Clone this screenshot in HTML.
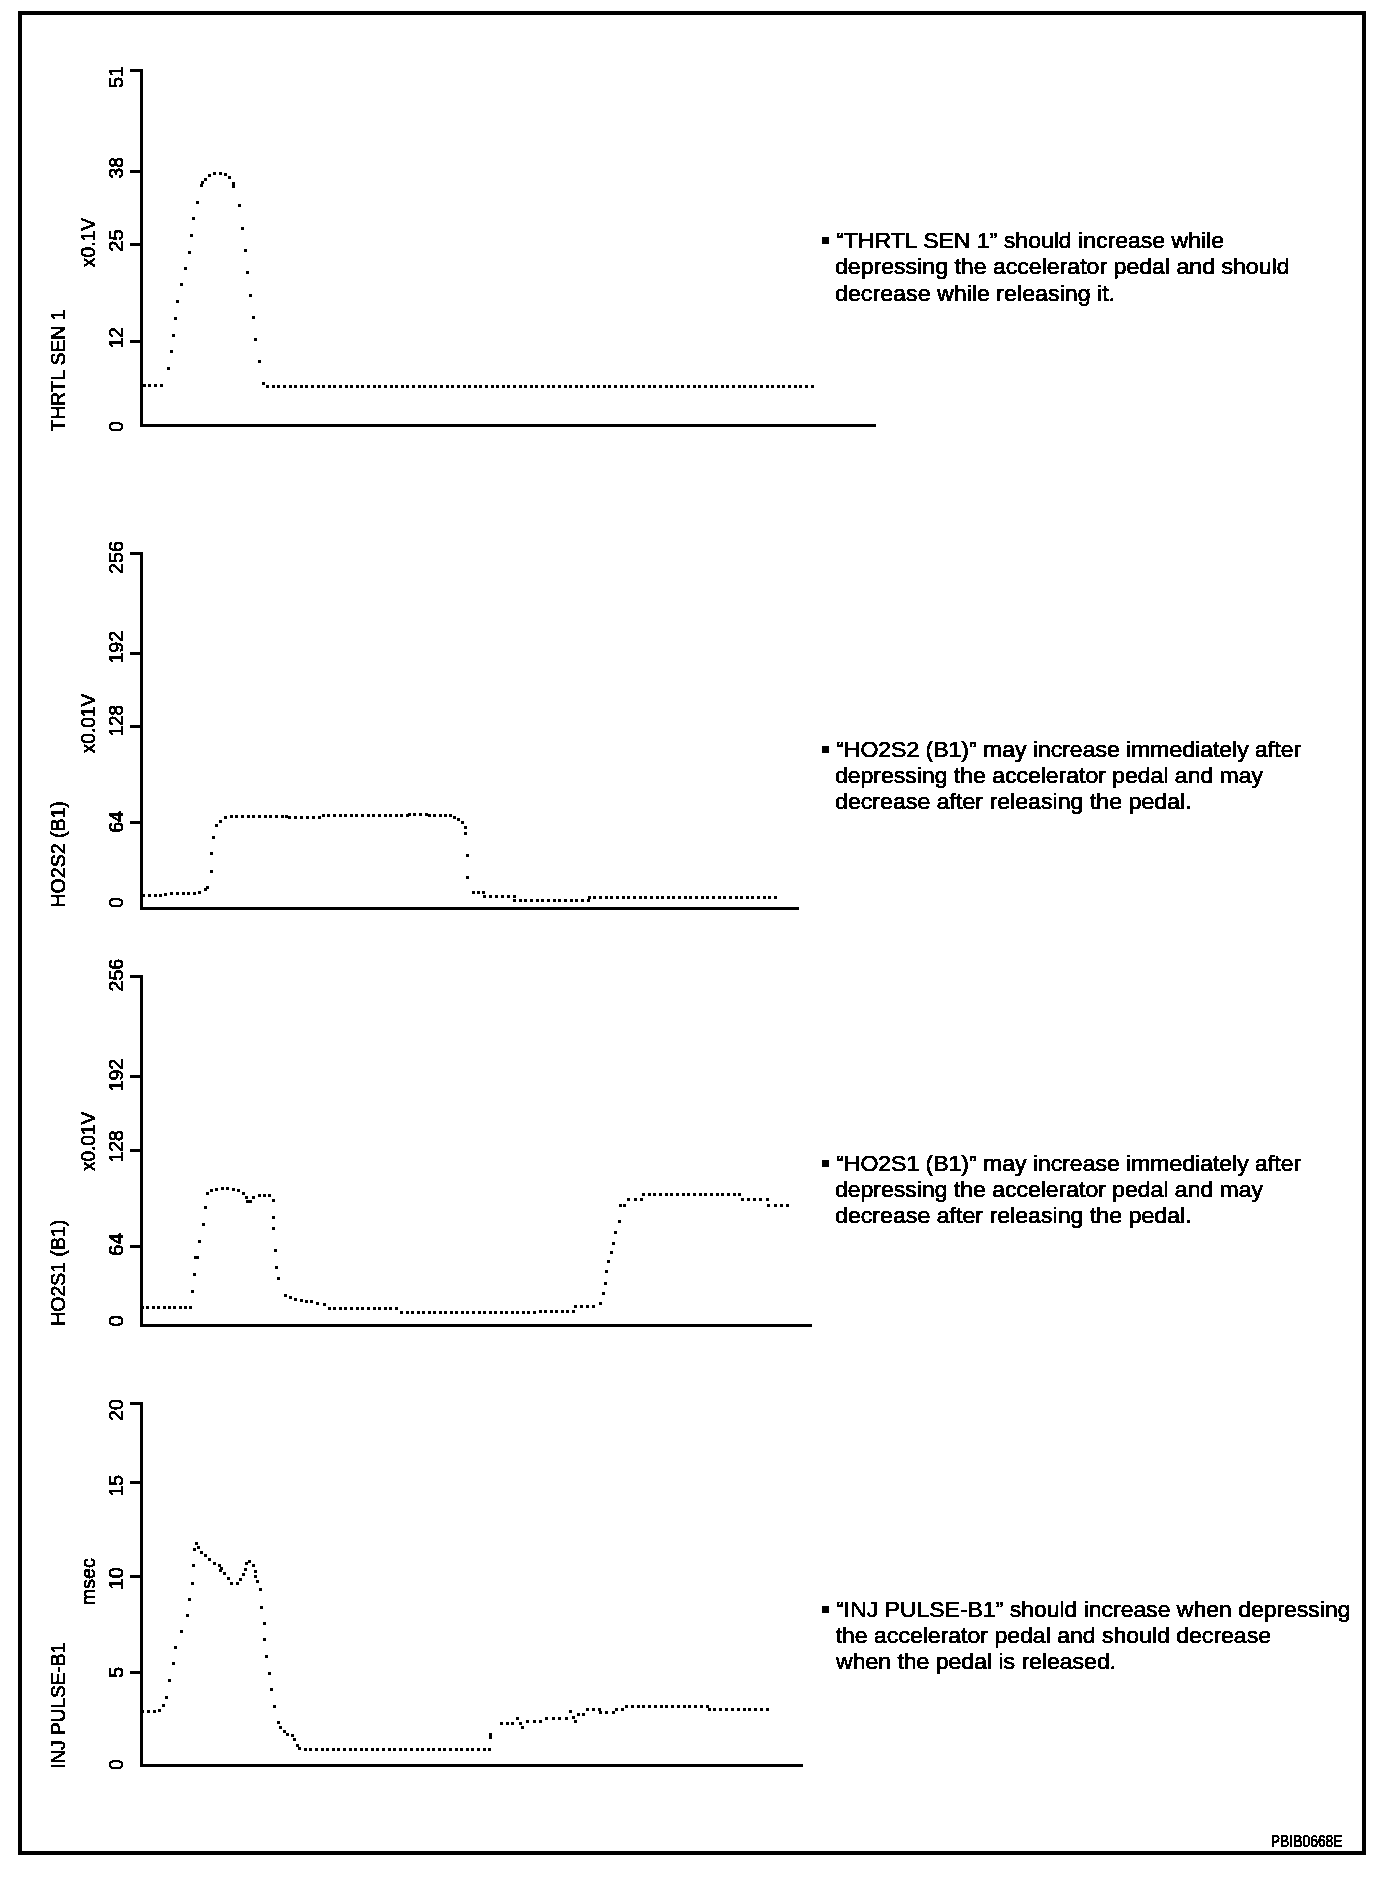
<!DOCTYPE html>
<html><head><meta charset="utf-8"><title>chart</title>
<style>
html,body{margin:0;padding:0;background:#fff;width:1392px;height:1878px;overflow:hidden;}
svg{display:block;}
text{font-family:"Liberation Sans",sans-serif;fill:#000;stroke:#000;stroke-width:0.7px;}
</style></head>
<body>
<svg width="1392" height="1878" viewBox="0 0 1392 1878" shape-rendering="crispEdges">
<defs><filter id="bw" x="0" y="0" width="1392" height="1878" filterUnits="userSpaceOnUse" color-interpolation-filters="sRGB">
<feColorMatrix type="matrix" values="0.3 0.59 0.11 0 0 0.3 0.59 0.11 0 0 0.3 0.59 0.11 0 0 0 0 0 1 0"/>
<feComponentTransfer><feFuncR type="discrete" tableValues="0 1"/><feFuncG type="discrete" tableValues="0 1"/><feFuncB type="discrete" tableValues="0 1"/></feComponentTransfer>
</filter></defs>
<g filter="url(#bw)"><rect x="0" y="0" width="1392" height="1878" fill="#fff"/>
<rect x="20" y="13" width="1344" height="1840" fill="none" stroke="#000" stroke-width="4"/>
<path d="M141.5 68.9V427.0M130 70.4H143M140 425.5H876" fill="none" stroke="#000" stroke-width="3"/>
<path d="M130 171.3H141" stroke="#000" stroke-width="3"/>
<path d="M130 244.8H141" stroke="#000" stroke-width="3"/>
<path d="M130 341.6H141" stroke="#000" stroke-width="3"/>
<text transform="translate(123.00,87.99) rotate(-90)" font-size="21" textLength="22.06" lengthAdjust="spacingAndGlyphs">51</text>
<text transform="translate(123.00,178.43) rotate(-90)" font-size="21" textLength="21.26" lengthAdjust="spacingAndGlyphs">38</text>
<text transform="translate(123.00,251.82) rotate(-90)" font-size="21" textLength="22.46" lengthAdjust="spacingAndGlyphs">25</text>
<text transform="translate(123.00,348.34) rotate(-90)" font-size="21" textLength="20.99" lengthAdjust="spacingAndGlyphs">12</text>
<text transform="translate(123.00,431.74) rotate(-90)" font-size="21" textLength="10.47" lengthAdjust="spacingAndGlyphs">0</text>
<text transform="translate(65.00,431.33) rotate(-90)" font-size="20" textLength="121.45" lengthAdjust="spacingAndGlyphs">THRTL SEN 1</text>
<text transform="translate(94.50,267.22) rotate(-90)" font-size="20" textLength="49.30" lengthAdjust="spacingAndGlyphs">x0.1V</text>
<path d="M141.5 552.0V909.8M130 553.5H143M140 908.3H799" fill="none" stroke="#000" stroke-width="3"/>
<path d="M130 653.5H141" stroke="#000" stroke-width="3"/>
<path d="M130 726.2H141" stroke="#000" stroke-width="3"/>
<path d="M130 822.0H141" stroke="#000" stroke-width="3"/>
<text transform="translate(123.00,573.89) rotate(-90)" font-size="21" textLength="32.86" lengthAdjust="spacingAndGlyphs">256</text>
<text transform="translate(123.00,663.49) rotate(-90)" font-size="21" textLength="32.57" lengthAdjust="spacingAndGlyphs">192</text>
<text transform="translate(123.00,736.33) rotate(-90)" font-size="21" textLength="31.24" lengthAdjust="spacingAndGlyphs">128</text>
<text transform="translate(123.00,832.79) rotate(-90)" font-size="21" textLength="21.77" lengthAdjust="spacingAndGlyphs">64</text>
<text transform="translate(123.00,907.64) rotate(-90)" font-size="21" textLength="10.47" lengthAdjust="spacingAndGlyphs">0</text>
<text transform="translate(65.20,907.50) rotate(-90)" font-size="20" textLength="106.31" lengthAdjust="spacingAndGlyphs">HO2S2 (B1)</text>
<text transform="translate(94.70,753.21) rotate(-90)" font-size="20" textLength="59.40" lengthAdjust="spacingAndGlyphs">x0.01V</text>
<path d="M141.5 974.9V1326.8M130 976.4H143M140 1325.3H812" fill="none" stroke="#000" stroke-width="3"/>
<path d="M130 1076.3H141" stroke="#000" stroke-width="3"/>
<path d="M130 1150.5H141" stroke="#000" stroke-width="3"/>
<path d="M130 1246.4H141" stroke="#000" stroke-width="3"/>
<text transform="translate(123.00,991.49) rotate(-90)" font-size="21" textLength="32.75" lengthAdjust="spacingAndGlyphs">256</text>
<text transform="translate(123.00,1091.49) rotate(-90)" font-size="21" textLength="32.68" lengthAdjust="spacingAndGlyphs">192</text>
<text transform="translate(123.00,1162.48) rotate(-90)" font-size="21" textLength="32.32" lengthAdjust="spacingAndGlyphs">128</text>
<text transform="translate(123.00,1256.04) rotate(-90)" font-size="21" textLength="22.84" lengthAdjust="spacingAndGlyphs">64</text>
<text transform="translate(123.00,1326.82) rotate(-90)" font-size="21" textLength="11.63" lengthAdjust="spacingAndGlyphs">0</text>
<text transform="translate(65.20,1325.80) rotate(-90)" font-size="20" textLength="106.11" lengthAdjust="spacingAndGlyphs">HO2S1 (B1)</text>
<text transform="translate(94.70,1171.11) rotate(-90)" font-size="20" textLength="59.40" lengthAdjust="spacingAndGlyphs">x0.01V</text>
<path d="M141.5 1402.0V1766.8M130 1403.5H143M140 1765.3H802.5" fill="none" stroke="#000" stroke-width="3"/>
<path d="M130 1482.4H141" stroke="#000" stroke-width="3"/>
<path d="M130 1576.4H141" stroke="#000" stroke-width="3"/>
<path d="M130 1672.4H141" stroke="#000" stroke-width="3"/>
<text transform="translate(123.00,1420.98) rotate(-90)" font-size="21" textLength="21.75" lengthAdjust="spacingAndGlyphs">20</text>
<text transform="translate(123.00,1496.46) rotate(-90)" font-size="21" textLength="21.37" lengthAdjust="spacingAndGlyphs">15</text>
<text transform="translate(123.00,1589.74) rotate(-90)" font-size="21" textLength="22.53" lengthAdjust="spacingAndGlyphs">10</text>
<text transform="translate(123.00,1677.78) rotate(-90)" font-size="21" textLength="10.79" lengthAdjust="spacingAndGlyphs">5</text>
<text transform="translate(123.00,1769.73) rotate(-90)" font-size="21" textLength="10.35" lengthAdjust="spacingAndGlyphs">0</text>
<text transform="translate(65.00,1768.76) rotate(-90)" font-size="20" textLength="125.89" lengthAdjust="spacingAndGlyphs">INJ PULSE-B1</text>
<text transform="translate(95.00,1605.20) rotate(-90)" font-size="20" textLength="46.92" lengthAdjust="spacingAndGlyphs">msec</text>
<rect x="822" y="237" width="7" height="7"/>
<text x="836.16" y="248.00" font-size="22" textLength="387.86" lengthAdjust="spacingAndGlyphs">“THRTL SEN 1” should increase while</text>
<text x="835.03" y="274.00" font-size="22" textLength="454.46" lengthAdjust="spacingAndGlyphs">depressing the accelerator pedal and should</text>
<text x="835.02" y="300.50" font-size="22" textLength="280.10" lengthAdjust="spacingAndGlyphs">decrease while releasing it.</text>
<rect x="822" y="746" width="7" height="7"/>
<text x="836.16" y="757.00" font-size="22" textLength="464.92" lengthAdjust="spacingAndGlyphs">“HO2S2 (B1)” may increase immediately after</text>
<text x="835.03" y="783.00" font-size="22" textLength="428.01" lengthAdjust="spacingAndGlyphs">depressing the accelerator pedal and may</text>
<text x="835.03" y="809.00" font-size="22" textLength="356.59" lengthAdjust="spacingAndGlyphs">decrease after releasing the pedal.</text>
<rect x="822" y="1160" width="7" height="7"/>
<text x="836.16" y="1171.00" font-size="22" textLength="464.92" lengthAdjust="spacingAndGlyphs">“HO2S1 (B1)” may increase immediately after</text>
<text x="835.03" y="1197.00" font-size="22" textLength="428.01" lengthAdjust="spacingAndGlyphs">depressing the accelerator pedal and may</text>
<text x="835.03" y="1223.00" font-size="22" textLength="356.59" lengthAdjust="spacingAndGlyphs">decrease after releasing the pedal.</text>
<rect x="822" y="1606" width="7" height="7"/>
<text x="836.16" y="1617.00" font-size="22" textLength="514.32" lengthAdjust="spacingAndGlyphs">“INJ PULSE-B1” should increase when depressing</text>
<text x="835.65" y="1643.00" font-size="22" textLength="435.37" lengthAdjust="spacingAndGlyphs">the accelerator pedal and should decrease</text>
<text x="836.03" y="1669.00" font-size="22" textLength="280.07" lengthAdjust="spacingAndGlyphs">when the pedal is released.</text>
<text x="1270.86" y="1847.00" font-size="16" textLength="71.73" lengthAdjust="spacingAndGlyphs">PBIB0668E</text>
<g fill="#000"><rect x="142.7" y="384.4" width="3" height="3"/><rect x="148.3" y="384.4" width="3" height="3"/><rect x="153.9" y="384.4" width="3" height="3"/><rect x="159.5" y="384.4" width="3" height="3"/><rect x="166.5" y="366.5" width="3" height="3"/><rect x="170.0" y="350.1" width="3" height="3"/><rect x="171.9" y="334.2" width="3" height="3"/><rect x="174.0" y="317.0" width="3" height="3"/><rect x="175.9" y="299.5" width="3" height="3"/><rect x="179.6" y="283.2" width="3" height="3"/><rect x="184.4" y="267.1" width="3" height="3"/><rect x="187.9" y="250.5" width="3" height="3"/><rect x="189.9" y="234.1" width="3" height="3"/><rect x="192.0" y="216.9" width="3" height="3"/><rect x="195.6" y="200.6" width="3" height="3"/><rect x="200.0" y="184.4" width="3" height="3"/><rect x="201.3" y="181.4" width="3" height="3"/><rect x="204.4" y="177.9" width="3" height="3"/><rect x="207.5" y="173.8" width="3" height="3"/><rect x="213.2" y="171.8" width="3" height="3"/><rect x="218.9" y="172.0" width="3" height="3"/><rect x="224.0" y="173.3" width="3" height="3"/><rect x="228.4" y="176.3" width="3" height="3"/><rect x="231.5" y="182.4" width="3" height="3"/><rect x="232.0" y="184.5" width="3" height="3"/><rect x="238.0" y="204.3" width="3" height="3"/><rect x="241.1" y="227.1" width="3" height="3"/><rect x="244.1" y="249.0" width="3" height="3"/><rect x="246.3" y="271.1" width="3" height="3"/><rect x="248.5" y="293.5" width="3" height="3"/><rect x="251.8" y="315.8" width="3" height="3"/><rect x="254.1" y="337.9" width="3" height="3"/><rect x="257.9" y="360.1" width="3" height="3"/><rect x="261.7" y="382.2" width="3" height="3"/><rect x="266.0" y="385.0" width="3" height="3"/><rect x="271.6" y="385.0" width="3" height="3"/><rect x="277.2" y="385.0" width="3" height="3"/><rect x="282.8" y="385.0" width="3" height="3"/><rect x="288.5" y="385.0" width="3" height="3"/><rect x="294.1" y="385.0" width="3" height="3"/><rect x="299.7" y="385.0" width="3" height="3"/><rect x="305.3" y="385.0" width="3" height="3"/><rect x="310.9" y="385.0" width="3" height="3"/><rect x="316.5" y="385.0" width="3" height="3"/><rect x="322.1" y="385.0" width="3" height="3"/><rect x="327.7" y="385.0" width="3" height="3"/><rect x="333.4" y="385.0" width="3" height="3"/><rect x="339.0" y="385.0" width="3" height="3"/><rect x="344.6" y="385.0" width="3" height="3"/><rect x="350.2" y="385.0" width="3" height="3"/><rect x="355.8" y="385.0" width="3" height="3"/><rect x="361.4" y="385.0" width="3" height="3"/><rect x="367.0" y="385.0" width="3" height="3"/><rect x="372.7" y="385.0" width="3" height="3"/><rect x="378.3" y="385.0" width="3" height="3"/><rect x="383.9" y="385.0" width="3" height="3"/><rect x="389.5" y="385.0" width="3" height="3"/><rect x="395.1" y="385.0" width="3" height="3"/><rect x="400.7" y="385.0" width="3" height="3"/><rect x="406.3" y="385.0" width="3" height="3"/><rect x="411.9" y="385.0" width="3" height="3"/><rect x="417.6" y="385.0" width="3" height="3"/><rect x="423.2" y="385.0" width="3" height="3"/><rect x="428.8" y="385.0" width="3" height="3"/><rect x="434.4" y="385.0" width="3" height="3"/><rect x="440.0" y="385.0" width="3" height="3"/><rect x="445.6" y="385.0" width="3" height="3"/><rect x="451.2" y="385.0" width="3" height="3"/><rect x="456.9" y="385.0" width="3" height="3"/><rect x="462.5" y="385.0" width="3" height="3"/><rect x="468.1" y="385.0" width="3" height="3"/><rect x="473.7" y="385.0" width="3" height="3"/><rect x="479.3" y="385.0" width="3" height="3"/><rect x="484.9" y="385.0" width="3" height="3"/><rect x="490.5" y="385.0" width="3" height="3"/><rect x="496.1" y="385.0" width="3" height="3"/><rect x="501.8" y="385.0" width="3" height="3"/><rect x="507.4" y="385.0" width="3" height="3"/><rect x="513.0" y="385.0" width="3" height="3"/><rect x="518.6" y="385.0" width="3" height="3"/><rect x="524.2" y="385.0" width="3" height="3"/><rect x="529.8" y="385.0" width="3" height="3"/><rect x="535.4" y="385.0" width="3" height="3"/><rect x="541.1" y="385.0" width="3" height="3"/><rect x="546.7" y="385.0" width="3" height="3"/><rect x="552.3" y="385.0" width="3" height="3"/><rect x="557.9" y="385.0" width="3" height="3"/><rect x="563.5" y="385.0" width="3" height="3"/><rect x="569.1" y="385.0" width="3" height="3"/><rect x="574.7" y="385.0" width="3" height="3"/><rect x="580.4" y="385.0" width="3" height="3"/><rect x="586.0" y="385.0" width="3" height="3"/><rect x="591.6" y="385.0" width="3" height="3"/><rect x="597.2" y="385.0" width="3" height="3"/><rect x="602.8" y="385.0" width="3" height="3"/><rect x="608.4" y="385.0" width="3" height="3"/><rect x="614.0" y="385.0" width="3" height="3"/><rect x="619.6" y="385.0" width="3" height="3"/><rect x="625.3" y="385.0" width="3" height="3"/><rect x="630.9" y="385.0" width="3" height="3"/><rect x="636.5" y="385.0" width="3" height="3"/><rect x="642.1" y="385.0" width="3" height="3"/><rect x="647.7" y="385.0" width="3" height="3"/><rect x="653.3" y="385.0" width="3" height="3"/><rect x="658.9" y="385.0" width="3" height="3"/><rect x="664.6" y="385.0" width="3" height="3"/><rect x="670.2" y="385.0" width="3" height="3"/><rect x="675.8" y="385.0" width="3" height="3"/><rect x="681.4" y="385.0" width="3" height="3"/><rect x="687.0" y="385.0" width="3" height="3"/><rect x="692.6" y="385.0" width="3" height="3"/><rect x="698.2" y="385.0" width="3" height="3"/><rect x="703.8" y="385.0" width="3" height="3"/><rect x="709.5" y="385.0" width="3" height="3"/><rect x="715.1" y="385.0" width="3" height="3"/><rect x="720.7" y="385.0" width="3" height="3"/><rect x="726.3" y="385.0" width="3" height="3"/><rect x="731.9" y="385.0" width="3" height="3"/><rect x="737.5" y="385.0" width="3" height="3"/><rect x="743.1" y="385.0" width="3" height="3"/><rect x="748.8" y="385.0" width="3" height="3"/><rect x="754.4" y="385.0" width="3" height="3"/><rect x="760.0" y="385.0" width="3" height="3"/><rect x="765.6" y="385.0" width="3" height="3"/><rect x="771.2" y="385.0" width="3" height="3"/><rect x="776.8" y="385.0" width="3" height="3"/><rect x="782.4" y="385.0" width="3" height="3"/><rect x="788.0" y="385.0" width="3" height="3"/><rect x="793.7" y="385.0" width="3" height="3"/><rect x="799.3" y="385.0" width="3" height="3"/><rect x="804.9" y="385.0" width="3" height="3"/><rect x="810.5" y="385.0" width="3" height="3"/><rect x="142.1" y="894.4" width="3" height="3"/><rect x="147.8" y="893.9" width="3" height="3"/><rect x="153.9" y="893.9" width="3" height="3"/><rect x="159.3" y="893.7" width="3" height="3"/><rect x="164.4" y="892.6" width="3" height="3"/><rect x="169.8" y="891.9" width="3" height="3"/><rect x="175.9" y="891.9" width="3" height="3"/><rect x="182.0" y="891.9" width="3" height="3"/><rect x="187.0" y="891.9" width="3" height="3"/><rect x="193.0" y="891.9" width="3" height="3"/><rect x="197.8" y="891.3" width="3" height="3"/><rect x="203.5" y="888.3" width="3" height="3"/><rect x="205.7" y="885.8" width="3" height="3"/><rect x="209.6" y="869.5" width="3" height="3"/><rect x="210.0" y="852.0" width="3" height="3"/><rect x="211.9" y="835.9" width="3" height="3"/><rect x="215.4" y="823.6" width="3" height="3"/><rect x="219.0" y="819.7" width="3" height="3"/><rect x="223.6" y="816.1" width="3" height="3"/><rect x="229.7" y="815.3" width="3" height="3"/><rect x="235.3" y="815.3" width="3" height="3"/><rect x="241.0" y="815.3" width="3" height="3"/><rect x="246.6" y="815.3" width="3" height="3"/><rect x="252.3" y="815.3" width="3" height="3"/><rect x="257.9" y="815.3" width="3" height="3"/><rect x="263.6" y="815.3" width="3" height="3"/><rect x="269.2" y="815.3" width="3" height="3"/><rect x="274.9" y="815.3" width="3" height="3"/><rect x="280.5" y="815.3" width="3" height="3"/><rect x="284.5" y="814.7" width="3" height="3"/><rect x="288.2" y="815.8" width="3" height="3"/><rect x="294.2" y="815.8" width="3" height="3"/><rect x="300.2" y="815.8" width="3" height="3"/><rect x="306.1" y="815.8" width="3" height="3"/><rect x="312.1" y="815.8" width="3" height="3"/><rect x="318.1" y="815.8" width="3" height="3"/><rect x="321.8" y="813.7" width="3" height="3"/><rect x="327.4" y="813.7" width="3" height="3"/><rect x="333.0" y="813.7" width="3" height="3"/><rect x="338.6" y="813.7" width="3" height="3"/><rect x="344.2" y="813.7" width="3" height="3"/><rect x="349.8" y="813.7" width="3" height="3"/><rect x="355.4" y="813.7" width="3" height="3"/><rect x="361.0" y="813.7" width="3" height="3"/><rect x="366.7" y="813.7" width="3" height="3"/><rect x="372.3" y="813.7" width="3" height="3"/><rect x="377.9" y="813.7" width="3" height="3"/><rect x="383.5" y="813.7" width="3" height="3"/><rect x="389.1" y="813.7" width="3" height="3"/><rect x="394.7" y="813.7" width="3" height="3"/><rect x="400.3" y="813.7" width="3" height="3"/><rect x="405.9" y="813.7" width="3" height="3"/><rect x="407.7" y="812.7" width="3" height="3"/><rect x="413.3" y="812.7" width="3" height="3"/><rect x="418.9" y="812.7" width="3" height="3"/><rect x="424.5" y="812.7" width="3" height="3"/><rect x="428.3" y="813.7" width="3" height="3"/><rect x="433.4" y="813.7" width="3" height="3"/><rect x="438.6" y="813.7" width="3" height="3"/><rect x="443.7" y="813.7" width="3" height="3"/><rect x="448.8" y="813.7" width="3" height="3"/><rect x="452.5" y="815.6" width="3" height="3"/><rect x="457.2" y="818.1" width="3" height="3"/><rect x="461.0" y="820.7" width="3" height="3"/><rect x="463.8" y="825.9" width="3" height="3"/><rect x="463.8" y="831.5" width="3" height="3"/><rect x="466.0" y="853.7" width="3" height="3"/><rect x="466.0" y="875.9" width="3" height="3"/><rect x="471.5" y="891.3" width="3" height="3"/><rect x="476.5" y="891.3" width="3" height="3"/><rect x="481.5" y="891.3" width="3" height="3"/><rect x="483.1" y="894.7" width="3" height="3"/><rect x="489.0" y="894.7" width="3" height="3"/><rect x="495.0" y="894.7" width="3" height="3"/><rect x="500.9" y="894.7" width="3" height="3"/><rect x="506.9" y="894.7" width="3" height="3"/><rect x="512.8" y="894.7" width="3" height="3"/><rect x="512.8" y="899.4" width="3" height="3"/><rect x="518.5" y="899.4" width="3" height="3"/><rect x="524.1" y="899.4" width="3" height="3"/><rect x="529.8" y="899.4" width="3" height="3"/><rect x="535.5" y="899.4" width="3" height="3"/><rect x="541.1" y="899.4" width="3" height="3"/><rect x="546.8" y="899.4" width="3" height="3"/><rect x="552.5" y="899.4" width="3" height="3"/><rect x="558.2" y="899.4" width="3" height="3"/><rect x="563.8" y="899.4" width="3" height="3"/><rect x="569.5" y="899.4" width="3" height="3"/><rect x="575.2" y="899.4" width="3" height="3"/><rect x="580.8" y="899.4" width="3" height="3"/><rect x="586.5" y="899.4" width="3" height="3"/><rect x="587.8" y="895.5" width="3" height="3"/><rect x="593.4" y="895.5" width="3" height="3"/><rect x="599.1" y="895.5" width="3" height="3"/><rect x="604.7" y="895.5" width="3" height="3"/><rect x="610.4" y="895.5" width="3" height="3"/><rect x="616.0" y="895.5" width="3" height="3"/><rect x="621.7" y="895.5" width="3" height="3"/><rect x="627.3" y="895.5" width="3" height="3"/><rect x="632.9" y="895.5" width="3" height="3"/><rect x="638.6" y="895.5" width="3" height="3"/><rect x="644.2" y="895.5" width="3" height="3"/><rect x="649.9" y="895.5" width="3" height="3"/><rect x="655.5" y="895.5" width="3" height="3"/><rect x="661.2" y="895.5" width="3" height="3"/><rect x="666.8" y="895.5" width="3" height="3"/><rect x="672.4" y="895.5" width="3" height="3"/><rect x="678.1" y="895.5" width="3" height="3"/><rect x="683.7" y="895.5" width="3" height="3"/><rect x="689.4" y="895.5" width="3" height="3"/><rect x="695.0" y="895.5" width="3" height="3"/><rect x="700.6" y="895.5" width="3" height="3"/><rect x="706.3" y="895.5" width="3" height="3"/><rect x="711.9" y="895.5" width="3" height="3"/><rect x="717.6" y="895.5" width="3" height="3"/><rect x="723.2" y="895.5" width="3" height="3"/><rect x="728.9" y="895.5" width="3" height="3"/><rect x="734.5" y="895.5" width="3" height="3"/><rect x="740.1" y="895.5" width="3" height="3"/><rect x="745.8" y="895.5" width="3" height="3"/><rect x="751.4" y="895.5" width="3" height="3"/><rect x="757.1" y="895.5" width="3" height="3"/><rect x="762.7" y="895.5" width="3" height="3"/><rect x="768.4" y="895.5" width="3" height="3"/><rect x="774.0" y="895.5" width="3" height="3"/><rect x="140.9" y="1306.0" width="3" height="3"/><rect x="146.3" y="1306.0" width="3" height="3"/><rect x="151.7" y="1306.0" width="3" height="3"/><rect x="157.1" y="1306.0" width="3" height="3"/><rect x="162.5" y="1306.0" width="3" height="3"/><rect x="167.8" y="1306.0" width="3" height="3"/><rect x="173.2" y="1306.0" width="3" height="3"/><rect x="178.6" y="1306.0" width="3" height="3"/><rect x="184.0" y="1306.0" width="3" height="3"/><rect x="189.4" y="1306.0" width="3" height="3"/><rect x="190.6" y="1289.5" width="3" height="3"/><rect x="192.6" y="1272.7" width="3" height="3"/><rect x="194.0" y="1255.9" width="3" height="3"/><rect x="196.0" y="1255.9" width="3" height="3"/><rect x="197.8" y="1239.6" width="3" height="3"/><rect x="201.5" y="1223.0" width="3" height="3"/><rect x="204.3" y="1206.4" width="3" height="3"/><rect x="205.9" y="1191.8" width="3" height="3"/><rect x="209.7" y="1188.9" width="3" height="3"/><rect x="214.8" y="1187.8" width="3" height="3"/><rect x="220.5" y="1187.0" width="3" height="3"/><rect x="225.9" y="1187.0" width="3" height="3"/><rect x="232.0" y="1187.8" width="3" height="3"/><rect x="237.0" y="1189.3" width="3" height="3"/><rect x="242.4" y="1191.8" width="3" height="3"/><rect x="245.4" y="1195.9" width="3" height="3"/><rect x="246.0" y="1199.9" width="3" height="3"/><rect x="249.0" y="1199.9" width="3" height="3"/><rect x="252.3" y="1195.9" width="3" height="3"/><rect x="257.5" y="1193.7" width="3" height="3"/><rect x="262.9" y="1193.6" width="3" height="3"/><rect x="268.3" y="1193.7" width="3" height="3"/><rect x="272.4" y="1199.0" width="3" height="3"/><rect x="272.0" y="1215.9" width="3" height="3"/><rect x="272.0" y="1227.0" width="3" height="3"/><rect x="273.8" y="1248.7" width="3" height="3"/><rect x="275.4" y="1265.5" width="3" height="3"/><rect x="277.2" y="1276.6" width="3" height="3"/><rect x="283.7" y="1293.7" width="3" height="3"/><rect x="288.5" y="1296.0" width="3" height="3"/><rect x="294.0" y="1297.8" width="3" height="3"/><rect x="299.5" y="1299.0" width="3" height="3"/><rect x="304.5" y="1299.7" width="3" height="3"/><rect x="309.5" y="1300.4" width="3" height="3"/><rect x="315.5" y="1301.5" width="3" height="3"/><rect x="322.5" y="1302.5" width="3" height="3"/><rect x="327.6" y="1307.3" width="3" height="3"/><rect x="333.2" y="1307.3" width="3" height="3"/><rect x="338.8" y="1307.3" width="3" height="3"/><rect x="344.4" y="1307.3" width="3" height="3"/><rect x="350.0" y="1307.3" width="3" height="3"/><rect x="355.6" y="1307.3" width="3" height="3"/><rect x="361.2" y="1307.3" width="3" height="3"/><rect x="366.9" y="1307.3" width="3" height="3"/><rect x="372.5" y="1307.3" width="3" height="3"/><rect x="378.1" y="1307.3" width="3" height="3"/><rect x="383.7" y="1307.3" width="3" height="3"/><rect x="389.3" y="1307.3" width="3" height="3"/><rect x="394.9" y="1307.3" width="3" height="3"/><rect x="400.0" y="1311.3" width="3" height="3"/><rect x="405.5" y="1311.3" width="3" height="3"/><rect x="411.1" y="1311.3" width="3" height="3"/><rect x="416.6" y="1311.3" width="3" height="3"/><rect x="422.1" y="1311.3" width="3" height="3"/><rect x="427.7" y="1311.3" width="3" height="3"/><rect x="433.2" y="1311.3" width="3" height="3"/><rect x="438.7" y="1311.3" width="3" height="3"/><rect x="444.3" y="1311.3" width="3" height="3"/><rect x="449.8" y="1311.3" width="3" height="3"/><rect x="455.3" y="1311.3" width="3" height="3"/><rect x="460.9" y="1311.3" width="3" height="3"/><rect x="466.4" y="1311.3" width="3" height="3"/><rect x="471.9" y="1311.3" width="3" height="3"/><rect x="477.5" y="1311.3" width="3" height="3"/><rect x="483.0" y="1311.3" width="3" height="3"/><rect x="488.5" y="1311.3" width="3" height="3"/><rect x="494.1" y="1311.3" width="3" height="3"/><rect x="499.6" y="1311.3" width="3" height="3"/><rect x="505.1" y="1311.3" width="3" height="3"/><rect x="510.7" y="1311.3" width="3" height="3"/><rect x="516.2" y="1311.3" width="3" height="3"/><rect x="521.7" y="1311.3" width="3" height="3"/><rect x="527.3" y="1311.3" width="3" height="3"/><rect x="532.8" y="1311.3" width="3" height="3"/><rect x="538.5" y="1309.5" width="3" height="3"/><rect x="544.0" y="1309.5" width="3" height="3"/><rect x="549.5" y="1309.5" width="3" height="3"/><rect x="555.0" y="1309.5" width="3" height="3"/><rect x="560.6" y="1309.5" width="3" height="3"/><rect x="566.1" y="1309.5" width="3" height="3"/><rect x="571.6" y="1309.5" width="3" height="3"/><rect x="574.2" y="1305.0" width="3" height="3"/><rect x="580.2" y="1305.0" width="3" height="3"/><rect x="586.2" y="1305.0" width="3" height="3"/><rect x="592.3" y="1305.0" width="3" height="3"/><rect x="598.7" y="1301.7" width="3" height="3"/><rect x="602.1" y="1291.9" width="3" height="3"/><rect x="603.9" y="1281.5" width="3" height="3"/><rect x="605.2" y="1270.1" width="3" height="3"/><rect x="607.0" y="1259.8" width="3" height="3"/><rect x="609.6" y="1250.7" width="3" height="3"/><rect x="611.7" y="1241.7" width="3" height="3"/><rect x="614.3" y="1230.6" width="3" height="3"/><rect x="618.1" y="1219.7" width="3" height="3"/><rect x="619.4" y="1203.9" width="3" height="3"/><rect x="622.5" y="1203.5" width="3" height="3"/><rect x="627.2" y="1197.5" width="3" height="3"/><rect x="633.7" y="1197.5" width="3" height="3"/><rect x="640.1" y="1197.5" width="3" height="3"/><rect x="641.9" y="1192.5" width="3" height="3"/><rect x="647.6" y="1192.5" width="3" height="3"/><rect x="653.3" y="1192.5" width="3" height="3"/><rect x="658.9" y="1192.5" width="3" height="3"/><rect x="664.6" y="1192.5" width="3" height="3"/><rect x="670.3" y="1192.5" width="3" height="3"/><rect x="676.0" y="1192.5" width="3" height="3"/><rect x="681.6" y="1192.5" width="3" height="3"/><rect x="687.3" y="1192.5" width="3" height="3"/><rect x="693.0" y="1192.5" width="3" height="3"/><rect x="698.7" y="1192.5" width="3" height="3"/><rect x="704.3" y="1192.5" width="3" height="3"/><rect x="710.0" y="1192.5" width="3" height="3"/><rect x="715.7" y="1192.5" width="3" height="3"/><rect x="721.4" y="1192.5" width="3" height="3"/><rect x="727.0" y="1192.5" width="3" height="3"/><rect x="732.7" y="1192.5" width="3" height="3"/><rect x="738.4" y="1192.5" width="3" height="3"/><rect x="741.0" y="1197.7" width="3" height="3"/><rect x="747.1" y="1197.7" width="3" height="3"/><rect x="753.2" y="1197.7" width="3" height="3"/><rect x="759.4" y="1197.7" width="3" height="3"/><rect x="765.5" y="1197.7" width="3" height="3"/><rect x="767.4" y="1203.9" width="3" height="3"/><rect x="773.7" y="1203.9" width="3" height="3"/><rect x="779.9" y="1203.9" width="3" height="3"/><rect x="786.2" y="1203.9" width="3" height="3"/><rect x="141.4" y="1710.4" width="3" height="3"/><rect x="147.2" y="1710.4" width="3" height="3"/><rect x="152.9" y="1710.4" width="3" height="3"/><rect x="158.4" y="1709.4" width="3" height="3"/><rect x="161.8" y="1704.3" width="3" height="3"/><rect x="165.1" y="1696.0" width="3" height="3"/><rect x="168.0" y="1679.2" width="3" height="3"/><rect x="171.6" y="1662.4" width="3" height="3"/><rect x="174.0" y="1645.9" width="3" height="3"/><rect x="179.5" y="1629.9" width="3" height="3"/><rect x="185.5" y="1613.8" width="3" height="3"/><rect x="187.8" y="1597.6" width="3" height="3"/><rect x="191.4" y="1581.7" width="3" height="3"/><rect x="192.0" y="1563.8" width="3" height="3"/><rect x="192.9" y="1547.9" width="3" height="3"/><rect x="194.5" y="1541.8" width="3" height="3"/><rect x="196.5" y="1546.3" width="3" height="3"/><rect x="199.7" y="1551.3" width="3" height="3"/><rect x="204.4" y="1554.4" width="3" height="3"/><rect x="208.3" y="1558.3" width="3" height="3"/><rect x="212.8" y="1561.5" width="3" height="3"/><rect x="217.7" y="1564.4" width="3" height="3"/><rect x="219.8" y="1566.5" width="3" height="3"/><rect x="219.4" y="1568.7" width="3" height="3"/><rect x="223.4" y="1572.3" width="3" height="3"/><rect x="226.5" y="1577.4" width="3" height="3"/><rect x="230.4" y="1581.5" width="3" height="3"/><rect x="235.6" y="1581.7" width="3" height="3"/><rect x="239.4" y="1577.7" width="3" height="3"/><rect x="241.9" y="1572.5" width="3" height="3"/><rect x="243.7" y="1567.7" width="3" height="3"/><rect x="244.5" y="1561.9" width="3" height="3"/><rect x="247.8" y="1559.9" width="3" height="3"/><rect x="251.9" y="1563.8" width="3" height="3"/><rect x="253.9" y="1569.5" width="3" height="3"/><rect x="253.9" y="1574.8" width="3" height="3"/><rect x="255.5" y="1580.1" width="3" height="3"/><rect x="259.0" y="1587.9" width="3" height="3"/><rect x="260.0" y="1605.5" width="3" height="3"/><rect x="262.8" y="1621.7" width="3" height="3"/><rect x="262.8" y="1637.8" width="3" height="3"/><rect x="265.4" y="1655.1" width="3" height="3"/><rect x="267.9" y="1672.0" width="3" height="3"/><rect x="270.0" y="1687.8" width="3" height="3"/><rect x="272.9" y="1704.8" width="3" height="3"/><rect x="276.9" y="1720.9" width="3" height="3"/><rect x="279.1" y="1725.9" width="3" height="3"/><rect x="282.5" y="1730.2" width="3" height="3"/><rect x="286.3" y="1732.8" width="3" height="3"/><rect x="290.6" y="1734.1" width="3" height="3"/><rect x="293.4" y="1738.1" width="3" height="3"/><rect x="295.5" y="1743.8" width="3" height="3"/><rect x="298.0" y="1747.4" width="3" height="3"/><rect x="303.8" y="1747.6" width="3" height="3"/><rect x="309.4" y="1747.6" width="3" height="3"/><rect x="315.0" y="1747.6" width="3" height="3"/><rect x="320.6" y="1747.6" width="3" height="3"/><rect x="326.1" y="1747.6" width="3" height="3"/><rect x="331.7" y="1747.6" width="3" height="3"/><rect x="337.3" y="1747.6" width="3" height="3"/><rect x="342.9" y="1747.6" width="3" height="3"/><rect x="348.5" y="1747.6" width="3" height="3"/><rect x="354.1" y="1747.6" width="3" height="3"/><rect x="359.6" y="1747.6" width="3" height="3"/><rect x="365.2" y="1747.6" width="3" height="3"/><rect x="370.8" y="1747.6" width="3" height="3"/><rect x="376.4" y="1747.6" width="3" height="3"/><rect x="382.0" y="1747.6" width="3" height="3"/><rect x="387.6" y="1747.6" width="3" height="3"/><rect x="393.2" y="1747.6" width="3" height="3"/><rect x="398.7" y="1747.6" width="3" height="3"/><rect x="404.3" y="1747.6" width="3" height="3"/><rect x="409.9" y="1747.6" width="3" height="3"/><rect x="415.5" y="1747.6" width="3" height="3"/><rect x="421.1" y="1747.6" width="3" height="3"/><rect x="426.7" y="1747.6" width="3" height="3"/><rect x="432.3" y="1747.6" width="3" height="3"/><rect x="437.8" y="1747.6" width="3" height="3"/><rect x="443.4" y="1747.6" width="3" height="3"/><rect x="449.0" y="1747.6" width="3" height="3"/><rect x="454.6" y="1747.6" width="3" height="3"/><rect x="460.2" y="1747.6" width="3" height="3"/><rect x="465.8" y="1747.6" width="3" height="3"/><rect x="471.3" y="1747.6" width="3" height="3"/><rect x="476.9" y="1747.6" width="3" height="3"/><rect x="482.5" y="1747.6" width="3" height="3"/><rect x="488.1" y="1747.6" width="3" height="3"/><rect x="489.4" y="1732.7" width="3" height="3"/><rect x="489.4" y="1736.4" width="3" height="3"/><rect x="500.2" y="1721.8" width="3" height="3"/><rect x="505.8" y="1721.8" width="3" height="3"/><rect x="511.4" y="1721.8" width="3" height="3"/><rect x="516.1" y="1717.3" width="3" height="3"/><rect x="518.9" y="1721.5" width="3" height="3"/><rect x="521.1" y="1726.1" width="3" height="3"/><rect x="526.4" y="1719.6" width="3" height="3"/><rect x="532.9" y="1719.6" width="3" height="3"/><rect x="539.4" y="1719.6" width="3" height="3"/><rect x="545.0" y="1717.0" width="3" height="3"/><rect x="551.5" y="1717.0" width="3" height="3"/><rect x="558.0" y="1717.0" width="3" height="3"/><rect x="564.5" y="1717.0" width="3" height="3"/><rect x="568.7" y="1709.7" width="3" height="3"/><rect x="571.7" y="1715.7" width="3" height="3"/><rect x="574.3" y="1720.3" width="3" height="3"/><rect x="576.7" y="1713.1" width="3" height="3"/><rect x="581.8" y="1713.1" width="3" height="3"/><rect x="585.8" y="1708.1" width="3" height="3"/><rect x="591.8" y="1708.1" width="3" height="3"/><rect x="597.8" y="1708.1" width="3" height="3"/><rect x="598.8" y="1711.1" width="3" height="3"/><rect x="605.3" y="1711.1" width="3" height="3"/><rect x="611.9" y="1711.1" width="3" height="3"/><rect x="614.9" y="1708.1" width="3" height="3"/><rect x="621.0" y="1708.1" width="3" height="3"/><rect x="625.0" y="1704.7" width="3" height="3"/><rect x="630.8" y="1704.7" width="3" height="3"/><rect x="636.5" y="1704.7" width="3" height="3"/><rect x="642.2" y="1704.7" width="3" height="3"/><rect x="648.0" y="1704.7" width="3" height="3"/><rect x="653.8" y="1704.7" width="3" height="3"/><rect x="659.5" y="1704.7" width="3" height="3"/><rect x="665.2" y="1704.7" width="3" height="3"/><rect x="671.0" y="1704.7" width="3" height="3"/><rect x="676.8" y="1704.7" width="3" height="3"/><rect x="682.5" y="1704.7" width="3" height="3"/><rect x="688.2" y="1704.7" width="3" height="3"/><rect x="694.0" y="1704.7" width="3" height="3"/><rect x="699.8" y="1704.7" width="3" height="3"/><rect x="705.5" y="1704.7" width="3" height="3"/><rect x="707.5" y="1708.1" width="3" height="3"/><rect x="713.3" y="1708.1" width="3" height="3"/><rect x="719.2" y="1708.1" width="3" height="3"/><rect x="725.0" y="1708.1" width="3" height="3"/><rect x="730.8" y="1708.1" width="3" height="3"/><rect x="736.6" y="1708.1" width="3" height="3"/><rect x="742.5" y="1708.1" width="3" height="3"/><rect x="748.3" y="1708.1" width="3" height="3"/><rect x="754.1" y="1708.1" width="3" height="3"/><rect x="760.0" y="1708.1" width="3" height="3"/><rect x="765.8" y="1708.1" width="3" height="3"/></g>
</g>
</svg>
</body></html>
